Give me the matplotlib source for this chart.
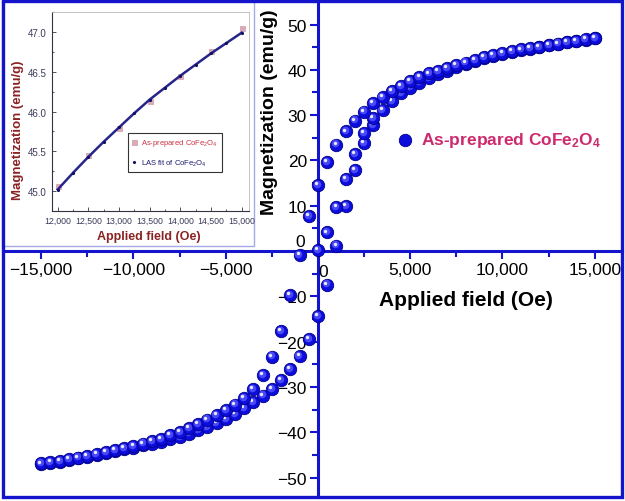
import matplotlib
matplotlib.use('Agg')
import matplotlib.pyplot as plt
from matplotlib.transforms import offset_copy
from matplotlib.patches import Rectangle
from matplotlib.ticker import MultipleLocator, FuncFormatter, FixedLocator

plt.rcParams['font.family'] = ['Liberation Sans', 'DejaVu Sans']
plt.rcParams['mathtext.fontset'] = 'custom'
plt.rcParams['mathtext.rm'] = 'Liberation Sans'
plt.rcParams['mathtext.bf'] = 'Liberation Sans:bold'
plt.rcParams['mathtext.default'] = 'regular'

# ---------------- data ----------------
field_loop = [-15000, -14500, -14000, -13500, -13000, -12500, -12000, -11500, -11000, -10500,
              -10000, -9500, -9000, -8500, -8000, -7500, -7000, -6500, -6000, -5500,
              -5000, -4500, -4000, -3500, -3000, -2500, -2000, -1500, -1000, -500,
              0, 500, 1000, 1500, 2000, 2500, 3000, 3500, 4000, 4500,
              5000, 5500, 6000, 6500, 7000, 7500, 8000, 8500, 9000, 9500,
              10000, 10500, 11000, 11500, 12000, 12500, 13000, 13500, 14000, 14500, 15000]
m_descending = [-46.9, -46.6, -46.3, -46.0, -45.6, -45.2, -44.8, -44.4, -44.0, -43.5,
                -43.0, -42.5, -42.0, -41.5, -40.7, -39.9, -39.1, -38.2, -37.2, -36.2,
                -35.1, -33.9, -32.4, -30.4, -27.4, -23.3, -17.7, -9.7, -0.8, 7.8,
                14.6, 19.7, 23.5, 26.4, 28.8, 30.8, 32.6, 34.0, 35.3, 36.5,
                37.6, 38.5, 39.2, 39.8, 40.4, 41.1, 41.6, 42.2, 42.8, 43.3,
                43.7, 44.1, 44.5, 44.8, 45.05, 45.45, 45.8, 46.15, 46.45, 46.75, 47.05]
m_ascending = [-47.1, -46.8, -46.5, -46.2, -45.8, -45.4, -45.0, -44.6, -44.2, -43.8,
               -43.4, -42.9, -42.5, -42.1, -41.6, -41.0, -40.3, -39.6, -38.9, -37.9,
               -37.1, -36.0, -34.7, -33.4, -31.9, -30.5, -28.4, -26.0, -23.1, -19.4,
               -14.3, -7.4, 1.2, 10.0, 17.9, 23.8, 27.9, 31.1, 33.2, 34.8,
               36.1, 37.2, 38.1, 39.0, 39.8, 40.6, 41.3, 42.0, 42.6, 43.1,
               43.6, 44.0, 44.4, 44.7, 45.0, 45.4, 45.75, 46.1, 46.4, 46.7, 47.0]
field_initial = [0, 500, 1000, 1500, 2000, 2500, 3000]
m_initial = [0.3, 4.1, 9.8, 15.9, 21.4, 26.0, 29.3]

inset_field = [12000, 12500, 13000, 13500, 14000, 14500, 15000]
inset_m = [45.06, 45.45, 45.79, 46.13, 46.44, 46.76, 47.05]
fit_field = [12000, 12250, 12500, 12750, 13000, 13250, 13500, 13750, 14000, 14250, 14500, 14750, 15000]
fit_m = [45.02, 45.23, 45.43, 45.62, 45.80, 45.98, 46.15, 46.30, 46.45, 46.59, 46.73, 46.86, 46.99]

x_major = [-15000, -10000, -5000, 0, 5000, 10000, 15000]
y_major = [-50, -40, -30, -20, -10, 0, 10, 20, 30, 40, 50]

legend_main = 'As-prepared CoFe$_\\mathbf{2}$O$_\\mathbf{4}$'
legend_data = 'As-prepared CoFe$_2$O$_4$'
legend_fit = 'LAS fit of CoFe$_2$O$_4$'

# ---------------- figure ----------------
W, H = 625, 502
fig = plt.figure(figsize=(6.25, 5.02), dpi=100)
fx = lambda px: px / W
fy = lambda py: 1 - py / H

BLUE = '#1414cc'
ax = fig.add_axes([fx(3), fy(498), 619 / W, 496 / H])
ax.set_xlim(-17073, 16477)
ax.set_ylim(-54.3, 55.2)

for s in ['top', 'right']:
    ax.spines[s].set_visible(False)
for s in ['left', 'bottom']:
    ax.spines[s].set_position(('data', 0))
    ax.spines[s].set_color(BLUE)
    ax.spines[s].set_linewidth(2.2)
    ax.spines[s].set_zorder(1)

ax.xaxis.set_major_locator(FixedLocator(x_major))
ax.xaxis.set_minor_locator(MultipleLocator(2500))
ax.yaxis.set_major_locator(FixedLocator(y_major))
ax.yaxis.set_minor_locator(MultipleLocator(5))

def fmt_x(v, pos):
    if v == 0:
        return ''
    return f"{int(v):,}".replace('-', '\u2212')

def fmt_y(v, pos):
    if v == 0:
        return ''
    return f"{int(v)}".replace('-', '\u2212')

ax.xaxis.set_major_formatter(FuncFormatter(fmt_x))
ax.yaxis.set_major_formatter(FuncFormatter(fmt_y))
ax.tick_params(axis='both', which='major', direction='out', length=6, width=1.5,
               color=BLUE, labelsize=12.5, pad=2)
ax.tick_params(axis='both', which='minor', direction='out', length=4, width=1.5, color=BLUE)
ax.annotate('0', xy=(0, 0), xytext=(3.5, -15), textcoords='offset points',
            ha='center', va='center', fontsize=12.5)
ax.annotate('0', xy=(0, 0), xytext=(-13, 7), textcoords='offset points',
            ha='center', va='center', fontsize=12.5)

def spheres(xs, ys, z, label=None):
    ax.scatter(xs, ys, s=80, c='#0c0cdc', edgecolors='#00008a', linewidths=0.6,
               zorder=z, label=label)
    t1 = offset_copy(ax.transData, fig=fig, x=-0.8, y=0.8, units='points')
    ax.scatter(xs, ys, s=30, c='#4848f6', linewidths=0, zorder=z + 0.1, transform=t1)
    t2 = offset_copy(ax.transData, fig=fig, x=-1.4, y=1.4, units='points')
    ax.scatter(xs, ys, s=6, c='#e8e8ff', linewidths=0, zorder=z + 0.2, transform=t2)

spheres(field_loop, m_ascending, 3)
spheres(field_initial, m_initial, 4)
spheres(field_loop, m_descending, 5, label=legend_main)

leg = ax.legend(loc='center left', bbox_to_anchor=(fx(396), fy(141)),
                bbox_transform=fig.transFigure, frameon=False, handlelength=1.0,
                handletextpad=0.45, borderpad=0, borderaxespad=0,
                prop={'size': 12.5, 'weight': 'bold'}, scatterpoints=1)
for t in leg.get_texts():
    t.set_color('#cc2b6e')

fig.text(fx(466), fy(300), 'Applied field (Oe)', fontsize=15, fontweight='bold',
         ha='center', va='center')
fig.text(fx(270), fy(112), 'Magnetization (emu/g)', fontsize=14, fontweight='bold',
         ha='center', va='center', rotation=90)

# inset background box
fig.add_artist(Rectangle((fx(2), fy(247)), 252 / W, 245 / H, transform=fig.transFigure,
                         facecolor='white', edgecolor='#a4aae6', linewidth=1.0, zorder=1.5))
# outer blue frame
fig.add_artist(Rectangle((fx(3), fy(498)), 619 / W, 496 / H, transform=fig.transFigure,
                         fill=False, edgecolor=BLUE, linewidth=2.4, zorder=6))

# ---------------- inset ----------------
ins = fig.add_axes([fx(51.7), fy(212), (249 - 51.7) / W, (212 - 13) / H])
ins.set_zorder(3)
ins.set_xlim(11902, 15119)
ins.set_ylim(44.75, 47.25)
ins.plot(fit_field, fit_m, '-', color='#25258a', lw=1.8, zorder=3)
ins.plot(inset_field, inset_m, 's', ms=3.6, color='#dcaab9', mec='#c48a9c', mew=0.4,
         label=legend_data, zorder=2)
ins.plot(fit_field, fit_m, '.', ms=2.5, color='#101060', label=legend_fit, zorder=4)
ins.xaxis.set_major_locator(MultipleLocator(500))
ins.xaxis.set_minor_locator(MultipleLocator(250))
ins.yaxis.set_major_locator(MultipleLocator(0.5))
ins.yaxis.set_minor_locator(MultipleLocator(0.25))
ins.xaxis.set_major_formatter(FuncFormatter(lambda v, p: f"{int(v):,}"))
ins.yaxis.set_major_formatter(FuncFormatter(lambda v, p: f"{v:.1f}"))
ins.tick_params(which='both', direction='in', color='#333344', labelcolor='#3a3a5a',
                width=0.6)
ins.tick_params(axis='x', labelsize=6.3)
ins.tick_params(axis='y', labelsize=7)
ins.tick_params(which='major', length=3)
ins.tick_params(which='minor', length=1.5)
for s in ['left', 'bottom']:
    ins.spines[s].set_color('#333344')
    ins.spines[s].set_linewidth(0.8)
for s in ['top', 'right']:
    ins.spines[s].set_color('#b8b8b8')
    ins.spines[s].set_linewidth(0.6)
ins.set_xlabel('Applied field (Oe)', fontsize=9, fontweight='bold', color='#8b2323')
ins.set_ylabel('Magnetization (emu/g)', fontsize=9.5, fontweight='bold', color='#8b2323')
ins.xaxis.set_label_coords(0.493, -0.095)
ins.yaxis.set_label_coords(-0.138, 0.41)
il = ins.legend(loc='upper left', bbox_to_anchor=(fx(128), fy(134)),
                bbox_transform=fig.transFigure, fontsize=5.5, frameon=True, fancybox=False,
                edgecolor='black', handlelength=0.5, handletextpad=0.6, borderpad=0.55,
                labelspacing=1.2, borderaxespad=0)
il.get_frame().set_linewidth(0.8)
il.get_texts()[0].set_color('#cc3344')
il.get_texts()[1].set_color('#1a1a6e')

fig.savefig('out.png', dpi=100)
